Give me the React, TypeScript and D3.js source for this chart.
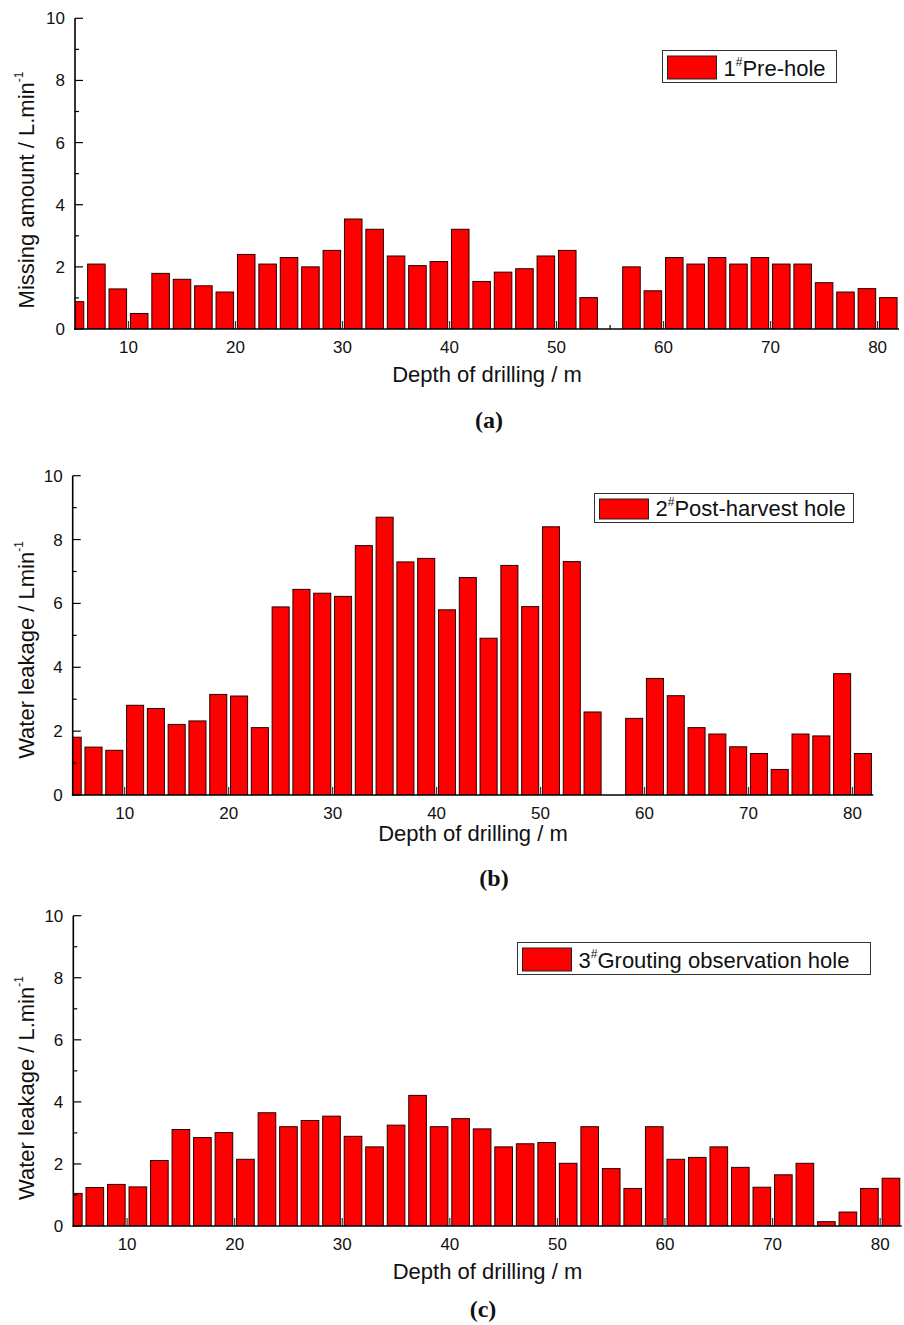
import React from "react";
import * as d3 from "d3";

const depths = [5, 7, 9, 11, 13, 15, 17, 19, 21, 23, 25, 27, 29, 31, 33, 35, 37, 39, 41, 43, 45, 47, 49, 51, 53, 55, 57, 59, 61, 63, 65, 67, 69, 71, 73, 75, 77, 79, 81];

const preHole = [0.88, 2.09, 1.29, 0.5, 1.79, 1.6, 1.39, 1.19, 2.4, 2.09, 2.3, 2.0, 2.53, 3.54, 3.21, 2.35, 2.04, 2.17, 3.21, 1.53, 1.83, 1.94, 2.35, 2.53, 1.01, 0, 2.0, 1.23, 2.3, 2.09, 2.3, 2.09, 2.3, 2.09, 2.09, 1.49, 1.19, 1.3, 1.01];

const postHarvest = [1.81, 1.5, 1.4, 2.81, 2.71, 2.21, 2.32, 3.15, 3.1, 2.11, 5.89, 6.44, 6.32, 6.22, 7.81, 8.7, 7.3, 7.41, 5.8, 6.81, 4.91, 7.19, 5.9, 8.4, 7.31, 2.6, 0, 2.4, 3.65, 3.11, 2.11, 1.91, 1.51, 1.3, 0.8, 1.91, 1.85, 3.8, 1.3];

const grouting = [1.05, 1.24, 1.34, 1.26, 2.11, 3.11, 2.85, 3.01, 2.15, 3.65, 3.2, 3.4, 3.54, 2.89, 2.55, 3.25, 4.21, 3.2, 3.46, 3.13, 2.55, 2.65, 2.69, 2.02, 3.2, 1.85, 1.21, 3.2, 2.15, 2.21, 2.55, 1.89, 1.25, 1.65, 2.02, 0.14, 0.45, 1.21, 1.54];

const xMajorTicks = [10, 20, 30, 40, 50, 60, 70, 80];
const xMinorTicks = [5, 15, 25, 35, 45, 55, 65, 75];
const yMajorTicks = [0, 2, 4, 6, 8, 10];
const yMinorTicks = [1, 3, 5, 7, 9];

const xTitle = "Depth of drilling / m";

type PanelCfg = {
  id: string;
  values: number[];
  x0: number; x1: number; yTop: number; yBot: number;
  yLabelMain: string; yLabelY: number;
  legendNum: string; legendText: string;
  legend: { x: number; y: number; w: number; h: number };
  xTitleY: number;
  caption: string; capX: number; capY: number;
};

const panels: PanelCfg[] = [
  {
    id: "a", values: preHole, x0: 75, x1: 899, yTop: 18.3, yBot: 329,
    yLabelMain: "Missing amount / L.min", yLabelY: 190,
    legendNum: "1", legendText: "Pre-hole",
    legend: { x: 662.5, y: 50.5, w: 174, h: 32 },
    xTitleY: 382, caption: "(a)", capX: 489, capY: 428,
  },
  {
    id: "b", values: postHarvest, x0: 72.7, x1: 873.3, yTop: 475.7, yBot: 795,
    yLabelMain: "Water leakage / Lmin", yLabelY: 650,
    legendNum: "2", legendText: "Post-harvest hole",
    legend: { x: 594.5, y: 493.5, w: 259, h: 29 },
    xTitleY: 841, caption: "(b)", capX: 494, capY: 886,
  },
  {
    id: "c", values: grouting, x0: 73.3, x1: 901.7, yTop: 915.7, yBot: 1226,
    yLabelMain: "Water leakage / L.min", yLabelY: 1088,
    legendNum: "3", legendText: "Grouting observation hole",
    legend: { x: 517.5, y: 942.5, w: 353, h: 32 },
    xTitleY: 1279, caption: "(c)", capX: 483, capY: 1317,
  },
];

const SANS = "'Liberation Sans', Arial, Helvetica, sans-serif";
const SERIF = "'Liberation Serif', 'Times New Roman', serif";
const BAR_W = 1.64;

function Panel({ cfg }: { cfg: PanelCfg }) {
  const x = d3.scaleLinear().domain([5, 82]).range([cfg.x0, cfg.x1]);
  const y = d3.scaleLinear().domain([0, 10]).range([cfg.yBot, cfg.yTop]);
  const bw = x(5 + BAR_W) - x(5);
  const clipId = "clip-" + cfg.id;
  const lg = cfg.legend;
  return (
    <g>
      <defs>
        <clipPath id={clipId}>
          <rect x={cfg.x0} y={cfg.yTop - 5} width={cfg.x1 - cfg.x0} height={cfg.yBot - cfg.yTop + 5} />
        </clipPath>
      </defs>
      {xMajorTicks.map((t) => (
        <line key={"xM" + t} x1={x(t)} x2={x(t)} y1={cfg.yBot} y2={cfg.yBot - 8} stroke="#333" strokeWidth={1.2} />
      ))}
      {xMinorTicks.filter((t) => t > 5).map((t) => (
        <line key={"xm" + t} x1={x(t)} x2={x(t)} y1={cfg.yBot} y2={cfg.yBot - 4} stroke="#000" strokeWidth={1.2} />
      ))}
      <g clipPath={`url(#${clipId})`}>
        {depths.map((d, i) =>
          cfg.values[i] > 0 ? (
            <rect
              key={d}
              x={x(d) - bw / 2}
              y={y(cfg.values[i])}
              width={bw}
              height={y(0) - y(cfg.values[i])}
              fill="#ff0000"
              stroke="#2a0000"
              strokeWidth={1}
            />
          ) : null
        )}
      </g>
      {yMajorTicks.map((t) => (
        <line key={"yM" + t} x1={cfg.x0} x2={cfg.x0 + 8} y1={y(t)} y2={y(t)} stroke="#000" strokeWidth={1.2} />
      ))}
      {yMinorTicks.map((t) => (
        <line key={"ym" + t} x1={cfg.x0} x2={cfg.x0 + 4} y1={y(t)} y2={y(t)} stroke="#000" strokeWidth={1.2} />
      ))}
      <line x1={cfg.x0} x2={cfg.x0} y1={cfg.yTop} y2={cfg.yBot + 0.8} stroke="#000" strokeWidth={1.6} />
      <line x1={cfg.x0 - 0.8} x2={cfg.x1} y1={cfg.yBot} y2={cfg.yBot} stroke="#000" strokeWidth={1.6} />
      {yMajorTicks.map((t) => (
        <text key={"yl" + t} x={cfg.x0 - 10} y={y(t) + 6} textAnchor="end" fontFamily={SANS} fontSize={17} fill="#111">
          {t}
        </text>
      ))}
      {xMajorTicks.map((t) => (
        <text key={"xl" + t} x={x(t)} y={cfg.yBot + 24} textAnchor="middle" fontFamily={SANS} fontSize={17} fill="#111">
          {t}
        </text>
      ))}
      <text x={(cfg.x0 + cfg.x1) / 2} y={cfg.xTitleY} textAnchor="middle" fontFamily={SANS} fontSize={22} fill="#111">
        {xTitle}
      </text>
      <text transform={`translate(34,${cfg.yLabelY}) rotate(-90)`} textAnchor="middle" fontFamily={SANS} fontSize={22} fill="#111">
        {cfg.yLabelMain}
        <tspan fontSize={12} dy={-11}>-1</tspan>
      </text>
      <rect x={lg.x} y={lg.y} width={lg.w} height={lg.h} fill="#fff" stroke="#333" strokeWidth={1} />
      <rect x={lg.x + 5} y={lg.y + 5.5} width={49} height={lg.h - 9} fill="#ff0000" stroke="#222" strokeWidth={1} />
      <text x={lg.x + 61} y={lg.y + lg.h - 7} fontFamily={SANS} fontSize={22} fill="#111">
        {cfg.legendNum}
        <tspan fontSize={12} dy={-10}>#</tspan>
        <tspan dy={10}>{cfg.legendText}</tspan>
      </text>
      <text x={cfg.capX} y={cfg.capY} textAnchor="middle" fontFamily={SERIF} fontWeight="bold" fontSize={24} fill="#111">
        {cfg.caption}
      </text>
    </g>
  );
}

export default function App() {
  return (
    <svg
      width={904}
      height={1325}
      viewBox="0 0 904 1325"
      style={{ position: "absolute", left: 0, top: 0, background: "#fff" }}
    >
      <rect x={0} y={0} width={904} height={1325} fill="#fff" />
      {panels.map((p) => (
        <Panel key={p.id} cfg={p} />
      ))}
    </svg>
  );
}
